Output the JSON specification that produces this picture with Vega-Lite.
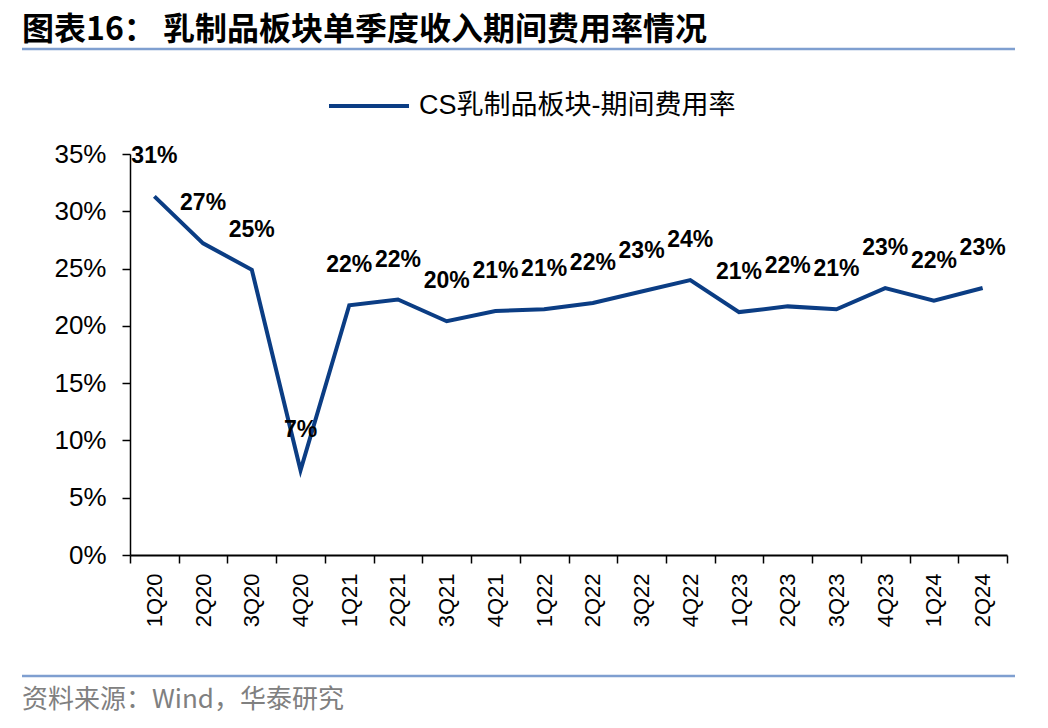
{
  "$schema": "https://vega.github.io/schema/vega-lite/v6.json",
  "width": 877,
  "height": 401,
  "autosize": {"type": "none"},
  "padding": {"left": 130, "top": 154, "right": 41, "bottom": 173},
  "background": "white",
  "config": {"view": {"stroke": null}, "font": "Liberation Sans"},
  "layer": [
    {
      "data": {
        "values": [
          {"quarter": "1Q20", "rate": 0.313},
          {"quarter": "2Q20", "rate": 0.272},
          {"quarter": "3Q20", "rate": 0.249},
          {"quarter": "4Q20", "rate": 0.074},
          {"quarter": "1Q21", "rate": 0.218},
          {"quarter": "2Q21", "rate": 0.223},
          {"quarter": "3Q21", "rate": 0.204},
          {"quarter": "4Q21", "rate": 0.213},
          {"quarter": "1Q22", "rate": 0.2145},
          {"quarter": "2Q22", "rate": 0.220},
          {"quarter": "3Q22", "rate": 0.230},
          {"quarter": "4Q22", "rate": 0.240},
          {"quarter": "1Q23", "rate": 0.212},
          {"quarter": "2Q23", "rate": 0.217},
          {"quarter": "3Q23", "rate": 0.2145},
          {"quarter": "4Q23", "rate": 0.233},
          {"quarter": "1Q24", "rate": 0.222},
          {"quarter": "2Q24", "rate": 0.233}
        ]
      },
      "encoding": {
        "x": {
          "field": "quarter",
          "type": "ordinal",
          "sort": null,
          "bandPosition": 0.5,
          "scale": {"type": "band", "paddingInner": 0, "paddingOuter": 0},
          "axis": {
            "title": null,
            "labelAngle": -90,
            "labelAlign": "right",
            "labelBaseline": "middle",
            "labelFontSize": 22,
            "labelColor": "black",
            "labelPadding": 10,
            "tickBand": "extent",
            "tickSize": 8,
            "tickColor": "black",
            "tickWidth": 1.5,
            "domainColor": "black",
            "domainWidth": 2,
            "grid": false
          }
        },
        "y": {
          "field": "rate",
          "type": "quantitative",
          "scale": {"domain": [0, 0.35], "nice": false},
          "axis": {
            "title": null,
            "values": [0, 0.05, 0.1, 0.15, 0.2, 0.25, 0.3, 0.35],
            "format": ".0%",
            "labelFontSize": 26,
            "labelColor": "black",
            "labelPadding": 16,
            "tickSize": 8,
            "tickColor": "black",
            "tickWidth": 1.5,
            "domainColor": "black",
            "domainWidth": 1.5,
            "grid": false
          }
        }
      },
      "layer": [
        {
          "mark": {"type": "line", "strokeWidth": 4, "strokeJoin": "miter"},
          "encoding": {
            "color": {
              "datum": "CS乳制品板块-期间费用率",
              "scale": {"range": ["#0B3D84"]},
              "legend": {
                "title": null,
                "orient": "none",
                "legendX": 197,
                "legendY": -90,
                "symbolType": "stroke",
                "symbolSize": 6400,
                "symbolStrokeWidth": 4,
                "labelFontSize": 27,
                "labelFont": "Liberation Sans, Noto Sans CJK SC",
                "labelColor": "black",
                "labelOffset": 8,
                "labelLimit": 600,
                "padding": 0
              }
            }
          }
        },
        {
          "mark": {"type": "text", "dy": -40, "fontSize": 23, "fontWeight": "bold", "font": "Liberation Sans", "color": "black"},
          "encoding": {"text": {"field": "rate", "type": "quantitative", "format": ".0%"}}
        }
      ]
    },
    {
      "data": {"values": [{}]},
      "mark": {"type": "text", "align": "left", "baseline": "middle", "fontSize": 32, "fontWeight": "bold", "font": "Noto Sans CJK SC", "color": "black"},
      "encoding": {"x": {"value": -108}, "y": {"value": -124}, "text": {"value": "图表16：  乳制品板块单季度收入期间费用率情况"}}
    },
    {
      "data": {"values": [{}]},
      "mark": {"type": "rule", "stroke": "#7F9FD0", "strokeWidth": 2.5},
      "encoding": {"x": {"value": -108}, "x2": {"value": 885}, "y": {"value": -105}}
    },
    {
      "data": {"values": [{}]},
      "mark": {"type": "rule", "stroke": "#7F9FD0", "strokeWidth": 2.5},
      "encoding": {"x": {"value": -108}, "x2": {"value": 885}, "y": {"value": 522}}
    },
    {
      "data": {"values": [{}]},
      "mark": {"type": "text", "align": "left", "baseline": "middle", "fontSize": 26, "font": "Noto Sans CJK SC", "color": "#808080"},
      "encoding": {"x": {"value": -108}, "y": {"value": 546}, "text": {"value": "资料来源：Wind，华泰研究"}}
    }
  ]
}
